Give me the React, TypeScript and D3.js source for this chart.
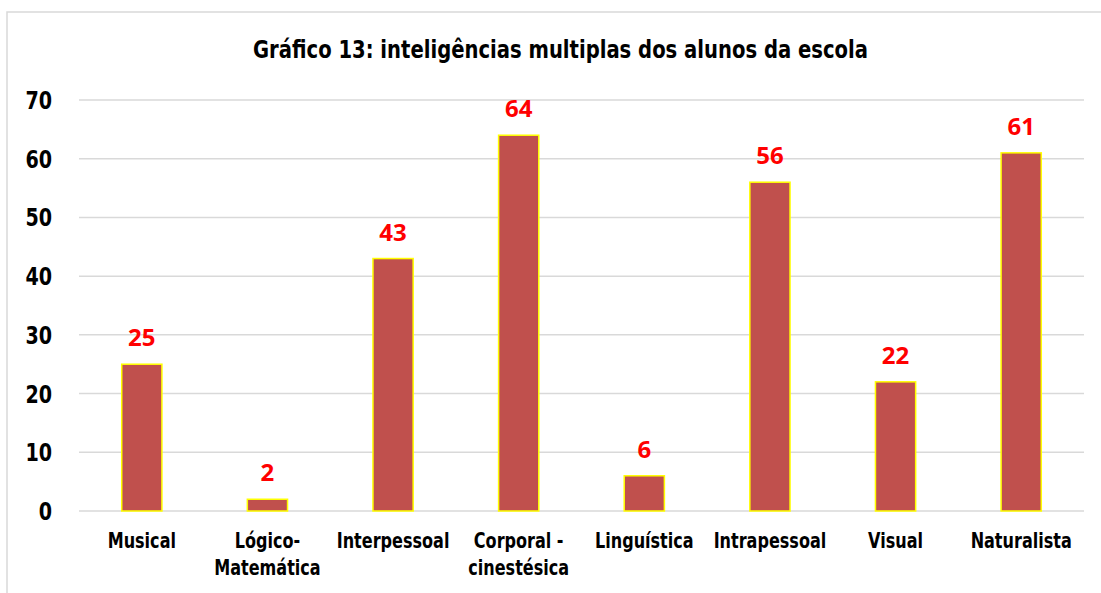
import React from 'react';
import * as d3 from 'd3';

// ── Data ──────────────────────────────────────────────────────────────────────
const categories = [
  'Musical',
  'Lógico-|Matemática',
  'Interpessoal',
  'Corporal -|cinestésica',
  'Linguística',
  'Intrapessoal',
  'Visual',
  'Naturalista',
];
const values = [25, 2, 43, 64, 6, 56, 22, 61];
const yTicks = [0, 10, 20, 30, 40, 50, 60, 70];
const title = 'Gráfico 13: inteligências multiplas dos alunos da escola';

const W = 1101;
const H = 593;
const PLOT = { left: 79, right: 1084, top: 100, bottom: 511 };
const CONDENSED = "'Liberation Sans Narrow', 'DejaVu Sans Condensed', sans-serif";
const SQUEEZE = 0.85; // horizontal squeeze to mimic the narrow original face

export default function App() {
  const x = d3
    .scaleBand()
    .domain(categories)
    .range([PLOT.left, PLOT.right])
    .paddingInner(0.68)
    .paddingOuter(0.34);

  const y = d3.scaleLinear().domain([0, 70]).range([PLOT.bottom, PLOT.top]);

  return (
    <svg
      width={W}
      height={H}
      style={{ position: 'absolute', left: 0, top: 0, background: '#fff' }}
    >
      {/* chart frame */}
      <rect x={7} y={12} width={W + 10} height={H} fill="#fff" stroke="#d9d9d9" strokeWidth={1.5} />

      <text
        x={253}
        y={58}
        textLength={615}
        lengthAdjust="spacingAndGlyphs"
        fontFamily={CONDENSED}
        fontWeight="bold"
        fontSize={25}
        fill="#000"
      >
        {title}
      </text>

      {/* gridlines + y labels */}
      {yTicks.map((t) => (
        <g key={t}>
          <line
            x1={PLOT.left}
            x2={PLOT.right}
            y1={y(t)}
            y2={y(t)}
            stroke="#d9d9d9"
            strokeWidth={1.5}
          />
          <text
            transform={`translate(52,${y(t) + 9}) scale(${SQUEEZE},1)`}
            textAnchor="end"
            fontFamily={CONDENSED}
            fontWeight="bold"
            fontSize={25}
            fill="#000"
          >
            {t}
          </text>
        </g>
      ))}

      {/* bars */}
      {categories.map((c, i) => {
        const bx = x(c) ?? 0;
        const bw = x.bandwidth();
        const by = y(values[i]);
        const cx = bx + bw / 2;
        return (
          <g key={c}>
            <rect
              x={bx}
              y={by}
              width={bw}
              height={PLOT.bottom - by}
              fill="#c0504d"
              stroke="#ffff00"
              strokeWidth={1.5}
            />
            <text
              x={cx}
              y={by - 18}
              textAnchor="middle"
              fontFamily="'Open Sans', sans-serif"
              fontWeight="bold"
              fontSize={24}
              fill="#ff0000"
            >
              {values[i]}
            </text>
            <text
              transform={`translate(${cx},548) scale(${SQUEEZE},1)`}
              textAnchor="middle"
              fontFamily={CONDENSED}
              fontWeight="bold"
              fontSize={21}
              fill="#000"
            >
              {c.split('|').map((line, li) => (
                <tspan key={li} x={0} dy={li === 0 ? 0 : 27}>
                  {line}
                </tspan>
              ))}
            </text>
          </g>
        );
      })}
    </svg>
  );
}
